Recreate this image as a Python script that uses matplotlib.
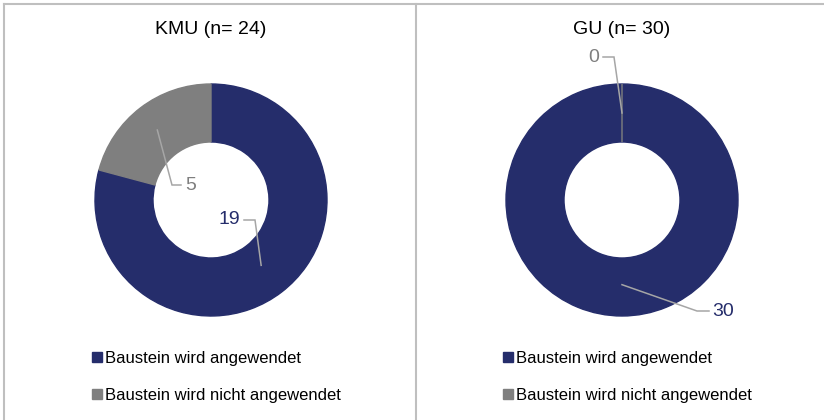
import matplotlib
matplotlib.use("Agg")
import matplotlib.pyplot as plt
from matplotlib.lines import Line2D
import numpy as np

plt.rcParams["font.family"] = ["Liberation Sans", "DejaVu Sans"]

# Data
groups = ["KMU", "GU"]
group_n = [24, 30]
categories = ["Baustein wird angewendet", "Baustein wird nicht angewendet"]
kmu_values = [19, 5]
gu_values = [30, 0]
colors = ["#252D6B", "#7F7F7F"]
label_colors = ["#252D6B", "#7F7F7F"]

W, H = 824, 420
R = 116  # outer radius in px

fig = plt.figure(figsize=(W / 100, H / 100), dpi=100)


def px(cx, cy, x, y):
    return ((x - cx) / R, (cy - y) / R)


def draw_donut(x0, x1, cx, cy, values, title, label_specs):
    # axes spanning pixel columns x0..x1, full height; 1 data unit = R px
    ax = fig.add_axes([x0 / W, 0, (x1 - x0) / W, 1])
    wedges, _ = ax.pie(values, colors=colors, startangle=90, counterclock=False,
                       radius=1.0, wedgeprops=dict(width=0.5, linewidth=1))
    ax.set_xlim((x0 - cx) / R, (x1 - cx) / R)
    ax.set_ylim(-(H - cy) / R, cy / R)
    ax.set_aspect("auto")
    ax.axis("off")
    for w, c in zip(wedges, colors):
        w.set_edgecolor(c)
    tx, ty = px(cx, cy, cx, 30)
    ax.text(tx, ty, title, ha="center", va="center", fontsize=14, color="black")
    # data labels with leader lines
    for w, v, lc, spec in zip(wedges, values, label_colors, label_specs):
        r_anchor, elbow, tail, txt_xy, ha = spec
        ang = np.deg2rad((w.theta1 + w.theta2) / 2)
        a = (r_anchor * np.cos(ang), r_anchor * np.sin(ang))
        ax.plot([a[0], elbow[0], tail[0]], [a[1], elbow[1], tail[1]],
                color="#A6A6A6", lw=1.1, solid_joinstyle="miter")
        ax.text(txt_xy[0], txt_xy[1], str(v), ha=ha, va="center",
                fontsize=14, color=lc)
    return ax, wedges


# Left donut
lcx, lcy = 211, 200
axl, wl = draw_donut(4, 416, lcx, lcy, kmu_values, f"{groups[0]} (n= {group_n[0]})", [
    (0.71, px(lcx, lcy, 255, 220), px(lcx, lcy, 244, 220), px(lcx, lcy, 240, 220), "right"),
    (0.76, px(lcx, lcy, 172, 185), px(lcx, lcy, 181, 185), px(lcx, lcy, 185, 185), "left"),
])

# Right donut
rcx, rcy = 622, 200
axr, wr = draw_donut(416, 824, rcx, rcy, gu_values, f"{groups[1]} (n= {group_n[1]})", [
    (0.73, px(rcx, rcy, 697, 311), px(rcx, rcy, 709, 311), px(rcx, rcy, 712, 311), "left"),
    (0.75, px(rcx, rcy, 614, 57), px(rcx, rcy, 603, 57), px(rcx, rcy, 599, 57), "right"),
])

# Legends
for x_anchor in [84 / W, 495 / W]:
    fig.legend(handles=wl, labels=categories, loc="upper left",
               bbox_to_anchor=(x_anchor, 1 - 343 / H), frameon=False,
               fontsize=12, handlelength=0.55, handleheight=0.55,
               handletextpad=0.2, labelspacing=1.32, borderpad=0)

# Frame lines
frame = "#BFBFBF"
fig.add_artist(Line2D([4 / W, 1], [1 - 4 / H, 1 - 4 / H], color=frame, lw=1.5))
fig.add_artist(Line2D([4 / W, 4 / W], [0, 1 - 4 / H], color=frame, lw=1.5))
fig.add_artist(Line2D([416 / W, 416 / W], [0, 1 - 4 / H], color=frame, lw=1.5))

fig.savefig("out.png", dpi=100)
